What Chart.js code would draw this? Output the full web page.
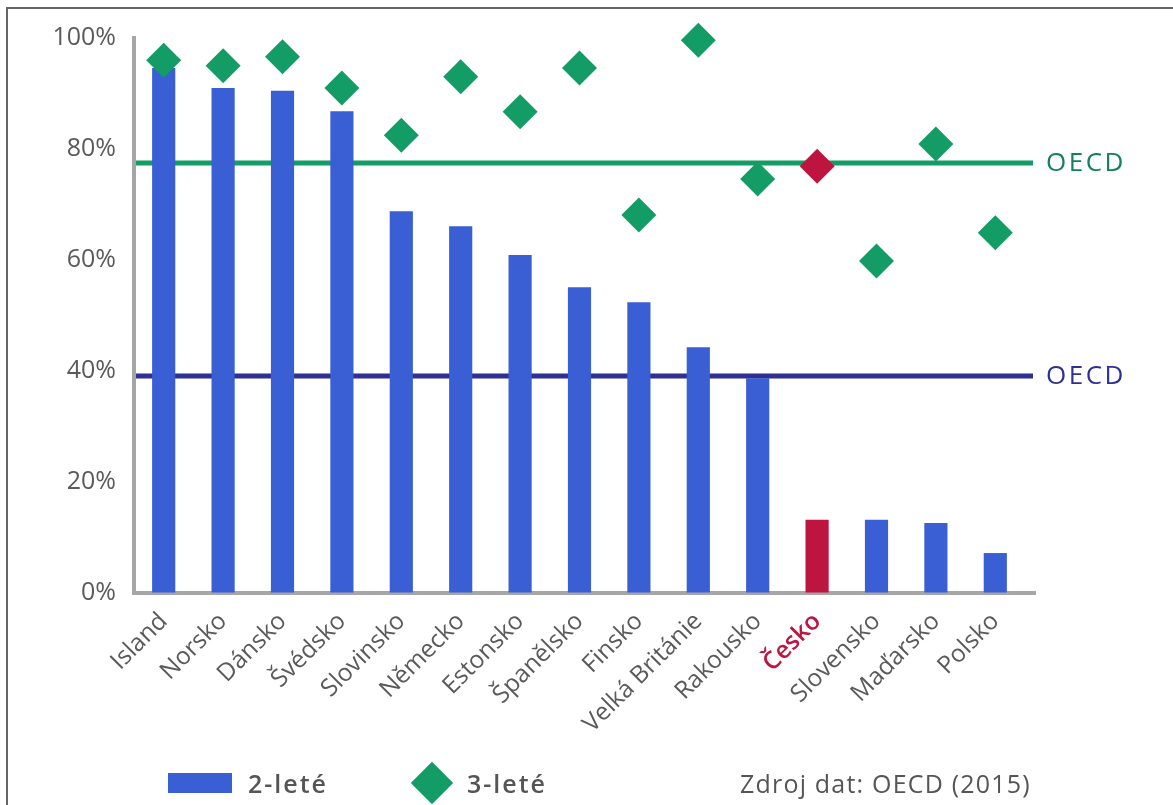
<!DOCTYPE html>
<html>
<head>
<meta charset="utf-8">
<script src="https://cdn.jsdelivr.net/npm/chart.js@4/dist/chart.umd.min.js"></script>
<style>
  html, body { margin: 0; padding: 0; background: #fff; }
  #wrap { position: relative; width: 1173px; height: 805px; overflow: hidden; font-family: 'Open Sans', sans-serif; }
  #frame { position: absolute; left: 6px; top: 7px; width: 1200px; height: 900px; border-top: 2px solid #666; border-left: 2px solid #666; }
  #chart-box { position: absolute; left: 0; top: 0; width: 1173px; height: 805px; }
  .legend { position: absolute; top: 765px; height: 36px; display: flex; align-items: center; color: #555; font-size: 25px; }
  .swatch-bar { width: 64px; height: 20px; background: #3A5ED3; margin-right: 16px; }
  .swatch-dia { width: 30px; height: 30px; background: #149C66; transform: rotate(45deg); margin: 0 20px 0 7px; }
  .lbl { font-weight: 600; letter-spacing: 2px; }
  .src { letter-spacing: 1.2px; }
</style>
</head>
<body>
<div id="wrap">
  <div id="frame"></div>
  <div id="chart-box"><canvas id="c"></canvas></div>
  <div class="legend" style="left:168px"><div class="swatch-bar"></div><span class="lbl">2-leté</span></div>
  <div class="legend" style="left:410px"><div class="swatch-dia"></div><span class="lbl">3-leté</span></div>
  <div class="legend src" style="left:740px">Zdroj dat: OECD (2015)</div>
</div>
<script>
const BLUE = '#3A5ED3';
const RED = '#BE1540';
const GREEN = '#149C66';
const NAVY = '#2E3192';
const TEXT = '#5a5a5a';
const AXIS = '#A6A6A6';
const FONT = "'Open Sans', sans-serif";

const categories = ['Island', 'Norsko', 'Dánsko', 'Švédsko', 'Slovinsko', 'Německo', 'Estonsko',
  'Španělsko', 'Finsko', 'Velká Británie', 'Rakousko', 'Česko', 'Slovensko', 'Maďarsko', 'Polsko'];
const twoYear = [94.6, 91.0, 90.5, 86.8, 68.8, 66.1, 60.9, 55.1, 52.4, 44.3, 38.7, 13.2, 13.2, 12.6, 7.2];
const threeYear = [96.0, 95.0, 96.6, 91.0, 82.5, 93.0, 86.7, 94.6, 68.1, 99.6, 74.6, 76.9, 59.8, 80.9, 64.9];
const oecdTwoYear = 39.1;
const oecdThreeYear = 77.5;
const highlight = 'Česko';

const isHi = i => categories[i] === highlight;

// OECD averages: lines behind the bars (a bit past the plot), label at the right
const oecdLines = {
  id: 'oecdLines',
  beforeDatasetsDraw(chart) {
    const { ctx, chartArea, scales } = chart;
    const lines = [
      { v: oecdThreeYear, color: GREEN, text: '#137F5C' },
      { v: oecdTwoYear, color: NAVY, text: NAVY },
    ];
    ctx.save();
    // x axis line runs a little past the last category
    ctx.strokeStyle = AXIS;
    ctx.lineWidth = 4;
    ctx.beginPath();
    ctx.moveTo(chartArea.right - 2, chartArea.bottom);
    ctx.lineTo(chartArea.right + 11, chartArea.bottom);
    ctx.stroke();
    lines.forEach(l => {
      const y = scales.y.getPixelForValue(l.v);
      ctx.strokeStyle = l.color;
      ctx.lineWidth = 5;
      ctx.beginPath();
      ctx.moveTo(chartArea.left + 2, y);
      ctx.lineTo(chartArea.right + 8, y);
      ctx.stroke();
      ctx.fillStyle = l.text;
      ctx.font = '26px ' + FONT;
      ctx.letterSpacing = '2.5px';
      ctx.textAlign = 'left';
      ctx.textBaseline = 'middle';
      ctx.fillText('OECD', chartArea.right + 21, y + 1);
      ctx.letterSpacing = '0px';
    });
    ctx.restore();
  },
};

new Chart(document.getElementById('c'), {
  data: {
    labels: categories,
    datasets: [
      {
        type: 'scatter',
        label: '3-leté',
        data: threeYear,
        pointStyle: 'rectRot',
        pointRadius: 17.5,
        pointHoverRadius: 17.5,
        pointBackgroundColor: threeYear.map((_, i) => isHi(i) ? RED : GREEN),
        pointBorderWidth: 0,
        showLine: false,
        clip: false,
        order: 0,
      },
      {
        type: 'bar',
        label: '2-leté',
        data: twoYear,
        backgroundColor: twoYear.map((_, i) => isHi(i) ? RED : BLUE),
        categoryPercentage: 1,
        barPercentage: 0.39,
        order: 1,
      },
    ],
  },
  options: {
    responsive: true,
    maintainAspectRatio: false,
    animation: false,
    layout: { padding: { left: 10, right: 148, top: 38, bottom: 0 } },
    plugins: {
      legend: { display: false },
      tooltip: { enabled: false },
    },
    scales: {
      x: {
        type: 'category',
        offset: true,
        grid: { display: true, color: 'transparent', drawTicks: false },
        border: { display: true, color: AXIS, width: 4 },
        ticks: {
          autoSkip: false,
          minRotation: 45,
          maxRotation: 45,
          padding: 14,
          color: ctx => isHi(ctx.index) ? RED : TEXT,
          font: ctx => ({ family: FONT, size: 24.5, weight: isHi(ctx.index) ? '600' : '400' }),
        },
        afterFit(scale) { scale.height = 212; },
      },
      y: {
        min: 0,
        max: 100,
        grid: { display: true, color: 'transparent', drawTicks: false },
        border: { display: true, color: AXIS, width: 4 },
        ticks: {
          stepSize: 20,
          padding: 18,
          color: TEXT,
          font: { family: FONT, size: 25 },
          callback: v => v + '%',
        },
        afterFit(scale) { scale.width = 124; },
      },
    },
  },
  plugins: [oecdLines],
});
</script>
</body>
</html>
